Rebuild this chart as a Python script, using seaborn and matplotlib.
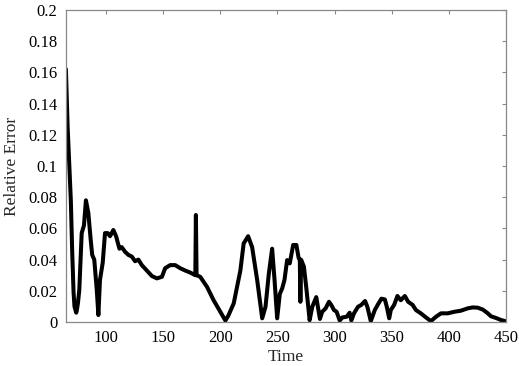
import matplotlib
matplotlib.use("Agg")
import matplotlib.pyplot as plt
import seaborn as sns
import pandas as pd

# values
time = [65, 66.5, 68, 69.3, 70.5, 71.7, 72.5, 74, 74.4, 75.5, 76.7, 78.8, 80.8, 82.5, 84.6,
        86.7, 88, 89.8, 92, 93.4, 94.8, 97.2, 99.2, 101.6, 103.6, 106.5, 108.9, 111.8,
        113.8, 116.8, 119.7, 122.6, 125.5, 128.4, 131.4, 135.8, 140.2, 144.6, 149, 151.8,
        156.2, 160.6, 165, 169.4, 173.8, 178.2, 178.7, 179.3, 182.5, 188.4, 194.2, 200,
        204.5, 207, 211.8, 217.6, 220.5, 224.4, 227.9, 232.3, 236.7, 239.6, 242.5, 245.4,
        247.5, 249.8, 252.1, 254.2, 256.2, 258.5, 260.8, 263.8, 266.6, 268.6, 269.6, 270.1,
        270.7, 273.2, 275.5, 278.2, 280.5, 284, 287.2, 289.2, 292.2, 295.1, 297.1, 299.5,
        301.8, 304.5, 306.9, 310.6, 313.2, 314.7, 317, 320.5, 323.4, 326.7, 328.7, 331.7,
        335.2, 338.1, 341, 344, 345.7, 347.8, 349.2, 352.1, 355, 357.9, 361.5, 364.4,
        368.3, 371.2, 375.5, 379.9, 384.3, 388.7, 393.1, 399, 404.8, 410.6, 416.5, 420.9,
        425.3, 429.7, 433.4, 436.9, 441.3, 445.7, 450]
rel_error = [0.162, 0.125, 0.10, 0.078, 0.045, 0.019, 0.010, 0.006, 0.007, 0.012, 0.0205,
             0.057, 0.062, 0.078, 0.070, 0.0526, 0.043, 0.040, 0.0205, 0.0045, 0.027,
             0.038, 0.057, 0.057, 0.055, 0.059, 0.055, 0.047, 0.048, 0.045, 0.043, 0.042,
             0.039, 0.040, 0.0365, 0.033, 0.0295, 0.028, 0.029, 0.0345, 0.0365, 0.0365,
             0.0345, 0.033, 0.0317, 0.030, 0.0686, 0.030, 0.029, 0.0226, 0.014, 0.0066,
             0.001, 0.004, 0.012, 0.033, 0.0504, 0.055, 0.048, 0.027, 0.0024, 0.0098,
             0.031, 0.047, 0.027, 0.0024, 0.018, 0.0216, 0.027, 0.0397, 0.0376, 0.0494,
             0.0494, 0.041, 0.040, 0.013, 0.040, 0.0355, 0.0205, 0.0012, 0.0098, 0.016,
             0.002, 0.0066, 0.0088, 0.013, 0.011, 0.0077, 0.0066, 0.001, 0.003, 0.0034,
             0.006, 0.001, 0.0056, 0.0098, 0.011, 0.0135, 0.0098, 0.0006, 0.0077, 0.0115,
             0.015, 0.0145, 0.0098, 0.0024, 0.0077, 0.011, 0.0167, 0.014, 0.0167, 0.013,
             0.011, 0.0077, 0.0056, 0.003, 0.0006, 0.0034, 0.0056, 0.0056, 0.0066, 0.0073,
             0.0088, 0.0094, 0.0092, 0.008, 0.006, 0.0037, 0.0026, 0.0013, 0.0005]

x_ticks = [100, 150, 200, 250, 300, 350, 400, 450]
y_ticks = [0, 0.02, 0.04, 0.06, 0.08, 0.1, 0.12, 0.14, 0.16, 0.18, 0.2]
y_labels = ["0", "0.02", "0.04", "0.06", "0.08", "0.1", "0.12", "0.14", "0.16", "0.18", "0.2"]

df = pd.DataFrame({"Time": time, "Relative Error": rel_error})

sns.set_style("white")
plt.rcParams["font.family"] = ["Liberation Serif", "DejaVu Serif"]

fig = plt.figure(figsize=(5.19, 3.66), dpi=100)
ax = fig.add_axes([0.127, 0.12, 0.848, 0.853])

sns.lineplot(data=df, x="Time", y="Relative Error", color="black", linewidth=2.9,
             sort=False, ax=ax)

ax.set_xlim(65, 450)
ax.set_ylim(0, 0.2)
ax.set_xticks(x_ticks)
ax.set_yticks(y_ticks)
ax.set_yticklabels(y_labels)
ax.tick_params(direction="in", top=True, right=True, length=3, width=0.8,
               color="#888888", labelsize=12, labelcolor="black", pad=6)
for s in ax.spines.values():
    s.set_color("#888888")
    s.set_linewidth(0.9)
ax.set_xlabel("Time", fontsize=12.5, labelpad=2)
ax.set_ylabel("Relative Error", fontsize=12.5, labelpad=6)

fig.savefig("out.png", dpi=100)
